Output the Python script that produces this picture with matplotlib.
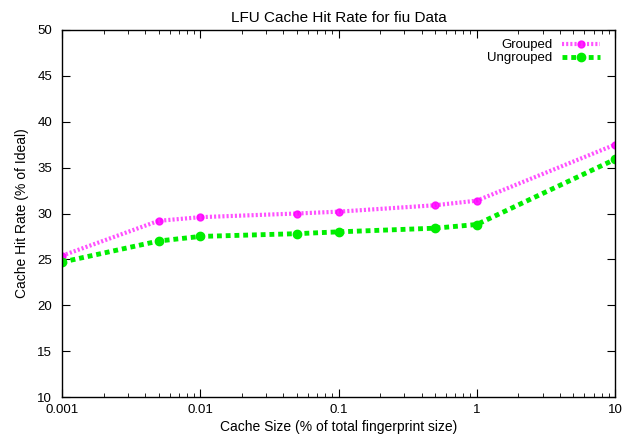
import numpy as np
import matplotlib
matplotlib.use("Agg")
import matplotlib.pyplot as plt
from matplotlib.ticker import LogLocator, NullFormatter, FixedLocator

plt.rcParams['font.family'] = ['Liberation Sans', 'DejaVu Sans']

# data
cache_size = [0.001, 0.005, 0.01, 0.05, 0.1, 0.5, 1, 10]
grouped    = [25.4, 29.2, 29.6, 30.0, 30.2, 30.9, 31.4, 37.5]
ungrouped  = [24.7, 27.0, 27.5, 27.8, 28.0, 28.4, 28.8, 35.9]
xtick_vals = [0.001, 0.01, 0.1, 1, 10]
xtick_lbls = ["0.001", "0.01", "0.1", "1", "10"]
ytick_vals = [10, 15, 20, 25, 30, 35, 40, 45, 50]

fig = plt.figure(figsize=(6.32, 4.42), dpi=100)
ax = fig.add_axes([62/632, 45/442, 553/632, 367/442])

ax.plot(cache_size, grouped, color='#ff33ff', lw=3, ls=(0, (0.5, 0.5)),
        marker='o', ms=5, mec='#ff00ff', mfc='#ff00ff', label='Grouped', alpha=0.85)
ax.plot(cache_size, ungrouped, color='#00ee00', lw=3.5, ls=(0, (1, 0.8)),
        marker='o', ms=6, mec='#00ee00', mfc='#00ee00', label='Ungrouped')

ax.set_xscale('log')
ax.set_xlim(0.001, 10)
ax.set_ylim(10, 50)
ax.xaxis.set_major_locator(FixedLocator(xtick_vals))
ax.set_xticklabels(xtick_lbls)
ax.xaxis.set_minor_locator(LogLocator(base=10, subs=np.arange(2, 10)))
ax.xaxis.set_minor_formatter(NullFormatter())
ax.set_yticks(ytick_vals)

ax.tick_params(which='both', direction='in', top=True, right=True, labelsize=9.5)
ax.tick_params(which='major', length=6)
ax.tick_params(which='minor', length=3)
ax.tick_params(axis='y', pad=7)
ax.tick_params(axis='x', pad=5)
for s in ax.spines.values():
    s.set_linewidth(1.0)

ax.set_title("LFU Cache Hit Rate for fiu Data", fontsize=11, pad=6)
ax.set_xlabel("Cache Size (% of total fingerprint size)", fontsize=10, labelpad=3)
ax.set_ylabel("Cache Hit Rate (% of Ideal)", fontsize=10, labelpad=6)

leg = ax.legend(loc='upper right', bbox_to_anchor=(0.99, 1.0), frameon=False,
                fontsize=9.5, markerfirst=False, handlelength=2.9,
                borderaxespad=0.3, labelspacing=0.05, handletextpad=0.7)

fig.savefig("out.png", dpi=100)
